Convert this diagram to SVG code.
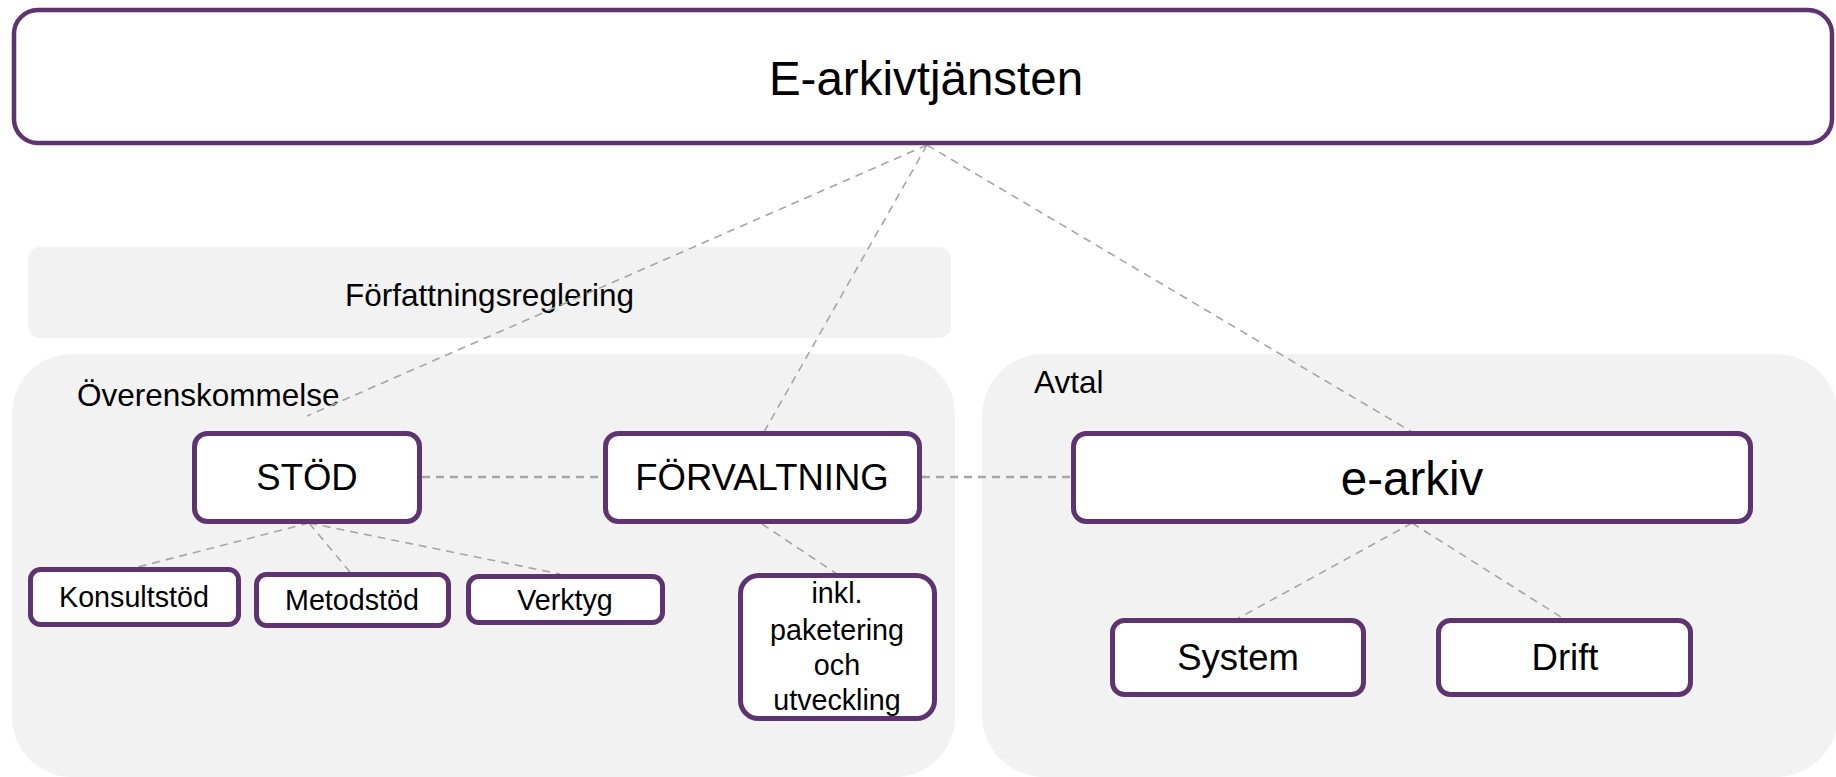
<svg xmlns="http://www.w3.org/2000/svg" width="1836" height="777" viewBox="0 0 1836 777">
  <style>
    text { font-family: "Liberation Sans", Arial, Helvetica, sans-serif; fill: #000; }
    .panel { fill: #f2f2f2; stroke: none; }
    .node { fill: #fff; stroke: #5e3370; stroke-width: 5; }
    .label { font-size: 31.5px; }
    .c { text-anchor: middle; }
    .big { font-size: 47.5px; }
    .mid { font-size: 36.5px; }
    .small { font-size: 28.7px; }
    .link { fill: none; stroke: #a6a6a6; stroke-width: 1.6; stroke-dasharray: 8 6; }
    .link.h { stroke-width: 2.4; stroke-dasharray: 8 6; }
  </style>

  <!-- background areas -->
  <g id="area-forfattning">
    <rect class="panel" x="28" y="247" width="923" height="91" rx="12"/>
    <text class="label c" x="489.5" y="306">Författningsreglering</text>
  </g>
  <g id="area-overenskommelse">
    <rect class="panel" x="12" y="354" width="943" height="423" rx="60"/>
    <text class="label" x="77" y="406">Överenskommelse</text>
  </g>
  <g id="area-avtal">
    <rect class="panel" x="982" y="354" width="856" height="423" rx="62"/>
    <text class="label" x="1034" y="393">Avtal</text>
  </g>

  <!-- connectors -->
  <g id="connectors">
    <line class="link" x1="927" y1="145" x2="307" y2="416"/>
    <line class="link" x1="927" y1="145" x2="764" y2="432"/>
    <line class="link" x1="927" y1="145" x2="1412" y2="432"/>
    <line class="link h" x1="422" y1="477" x2="603" y2="477"/>
    <line class="link h" x1="922" y1="477" x2="1071" y2="477"/>
    <line class="link" x1="309" y1="523" x2="138" y2="567"/>
    <line class="link" x1="309" y1="523" x2="350" y2="572"/>
    <line class="link" x1="309" y1="523" x2="560" y2="574"/>
    <line class="link" x1="762" y1="524" x2="837" y2="574"/>
    <line class="link" x1="1412" y1="523" x2="1237" y2="619"/>
    <line class="link" x1="1412" y1="523" x2="1561" y2="617"/>
  </g>

  <!-- nodes -->
  <g id="e-arkivtjansten">
    <rect class="node" x="14" y="10" width="1818" height="133" rx="24" style="stroke-width:4.5"/>
    <text class="big c" x="926" y="95">E-arkivtjänsten</text>
  </g>
  <g id="stod">
    <rect class="node" x="194.5" y="433.5" width="225" height="88" rx="13"/>
    <text class="mid c" x="307" y="490">STÖD</text>
  </g>
  <g id="forvaltning">
    <rect class="node" x="605.5" y="433.5" width="314" height="88" rx="13"/>
    <text class="mid c" x="762" y="490">FÖRVALTNING</text>
  </g>
  <g id="e-arkiv">
    <rect class="node" x="1073.5" y="433.5" width="677" height="88" rx="13"/>
    <text class="big c" x="1412" y="495">e-arkiv</text>
  </g>
  <g id="konsultstod">
    <rect class="node" x="30.5" y="569.5" width="208" height="55" rx="10"/>
    <text class="small c" x="134" y="607">Konsultstöd</text>
  </g>
  <g id="metodstod">
    <rect class="node" x="256.5" y="574.5" width="192" height="51" rx="10"/>
    <text class="small c" x="352" y="610">Metodstöd</text>
  </g>
  <g id="verktyg">
    <rect class="node" x="468.5" y="576.5" width="194" height="46" rx="10"/>
    <text class="small c" x="565" y="610">Verktyg</text>
  </g>
  <g id="paketering">
    <rect class="node" x="740.5" y="575.5" width="194" height="143" rx="18"/>
    <text class="small c" x="837" y="603">inkl.</text>
    <text class="small c" x="837" y="640">paketering</text>
    <text class="small c" x="837" y="675">och</text>
    <text class="small c" x="837" y="710">utveckling</text>
  </g>
  <g id="system">
    <rect class="node" x="1112.5" y="620.5" width="251" height="74" rx="12"/>
    <text class="mid c" x="1238" y="670">System</text>
  </g>
  <g id="drift">
    <rect class="node" x="1438.5" y="620.5" width="252" height="74" rx="12"/>
    <text class="mid c" x="1565" y="670">Drift</text>
  </g>
</svg>
